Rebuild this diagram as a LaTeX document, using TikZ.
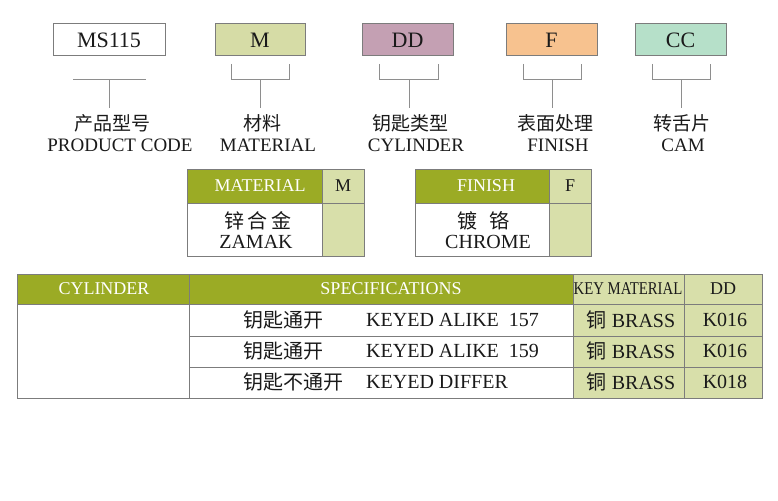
\documentclass[tikz,border=0pt]{standalone}
\usepackage{fontspec}
\setmainfont{Liberation Serif}
\newfontfamily\cjk{Noto Sans CJK SC}
\definecolor{olivehd}{HTML}{9BAB25}
\definecolor{olivelt}{HTML}{D8DFAA}
\definecolor{boxm}{HTML}{D6DCA6}
\definecolor{boxdd}{HTML}{C4A0B3}
\definecolor{boxf}{HTML}{F7C28F}
\definecolor{boxcc}{HTML}{B6E0C9}
\definecolor{edge}{HTML}{7C7C7C}
\definecolor{brkc}{HTML}{8E8E8E}
\definecolor{txt}{HTML}{1A1A1A}
\begin{document}
\begin{tikzpicture}[x=1pt,y=-1pt,
  topbox/.style={draw=edge,line width=1pt,minimum width=112pt,minimum height=32pt,inner sep=0pt,
    font=\fontsize{22}{24}\selectfont,text=txt},
  brk/.style={draw=brkc,line width=1pt},
  cnlab/.style={inner sep=0pt,font=\cjk\fontsize{19}{22}\selectfont,text=txt},
  enlab/.style={inner sep=0pt,font=\fontsize{19}{22}\selectfont,text=txt},
  tb/.style={draw=edge,line width=1pt},
  hdw/.style={inner sep=0pt,font=\fontsize{18}{20}\selectfont,text=white},
  hdd/.style={inner sep=0pt,font=\fontsize{18}{20}\selectfont,text=txt},
  bd/.style={inner sep=0pt,font=\fontsize{20}{22}\selectfont,text=txt},
  bdc/.style={inner sep=0pt,font=\cjk\fontsize{20}{22}\selectfont,text=txt}]
\useasboundingbox (0,0) rectangle (778,500);
\fill[white] (0,0) rectangle (778,500);

% top code boxes
\node[topbox,fill=white,minimum width=112pt] (ms) at (109,40) {MS115};
\node[topbox,fill=boxm,minimum width=90pt] (m) at (260,40) {M};
\node[topbox,fill=boxdd,minimum width=91pt] (dd) at (407.5,40) {DD};
\node[topbox,fill=boxf,minimum width=91pt] (f) at (551.5,40) {F};
\node[topbox,fill=boxcc,minimum width=91pt] (cc) at (680.5,40) {CC};

% labels
\node[cnlab] (l1c) at (112,123) {产品型号};
\node[enlab] (l1e) at (120,145) {PRODUCT CODE};
\node[cnlab] (l2c) at (262,123) {材料};
\node[enlab] (l2e) at (268,145) {MATERIAL};
\node[cnlab] (l3c) at (410,123) {钥匙类型};
\node[enlab] (l3e) at (416,145) {CYLINDER};
\node[cnlab] (l4c) at (555,123) {表面处理};
\node[enlab] (l4e) at (558,145) {FINISH};
\node[cnlab] (l5c) at (682,123) {转舌片};
\node[enlab] (l5e) at (683,145) {CAM};

% brackets
\draw[brk] (73,80) -- (146,80);
\draw[brk] (109,80) -- (109,108);
\draw[brk] (231,64) -- (231,80) -- (289,80) -- (289,64);
\draw[brk] (260,80) -- (260,108);
\draw[brk] (379,64) -- (379,80) -- (438,80) -- (438,64);
\draw[brk] (409,80) -- (409,108);
\draw[brk] (523,64) -- (523,80) -- (581,80) -- (581,64);
\draw[brk] (552,80) -- (552,108);
\draw[brk] (652,64) -- (652,80) -- (710,80) -- (710,64);
\draw[brk] (681,80) -- (681,108);

% material table
\fill[olivehd] (187,169) rectangle (322,203);
\fill[olivelt] (322,169) rectangle (364,256);
\draw[tb] (187,169) rectangle (364,256);
\draw[tb] (322,169) -- (322,256);
\draw[tb] (187,203) -- (364,203);
\node[hdw] (mth) at (260,186) {MATERIAL};
\node[hdd] (mtm) at (343,186) {M};
\node[bdc] (mtc) at (258,221) {锌\,合\,金};
\node[bd] (mte) at (256,242) {ZAMAK};

% finish table
\fill[olivehd] (415,169) rectangle (549,203);
\fill[olivelt] (549,169) rectangle (591,256);
\draw[tb] (415,169) rectangle (591,256);
\draw[tb] (549,169) -- (549,256);
\draw[tb] (415,203) -- (591,203);
\node[hdw] (fth) at (486,186) {FINISH};
\node[hdd] (ftf) at (570,186) {F};
\node[bdc] (ftc) at (483,221) {镀\hspace{0.6em}铬};
\node[bd] (fte) at (488,242) {CHROME};

% bottom table
\fill[olivehd] (17,274) rectangle (573,304);
\fill[olivelt] (573,274) rectangle (762,398);
\draw[tb] (17,274) rectangle (762,398);
\draw[tb] (189,274) -- (189,398);
\draw[tb] (573,274) -- (573,398);
\draw[tb] (684,274) -- (684,398);
\draw[tb] (17,304) -- (762,304);
\draw[tb] (189,336) -- (762,336);
\draw[tb] (189,367) -- (762,367);
\node[hdw] (hcyl) at (104,289) {CYLINDER};
\node[hdw] (hspec) at (391,289) {SPECIFICATIONS};
\node[hdd] (hkey) at (628,289) {\scalebox{0.82}[1]{KEY MATERIAL}};
\node[hdd] (hdd) at (723,289) {DD};

\node[bdc,anchor=west] (r1c) at (243,320) {钥匙通开};
\node[bd,anchor=west] (r1e) at (366,320) {KEYED ALIKE\ \ 157};
\node[bdc,anchor=west] (r2c) at (243,351) {钥匙通开};
\node[bd,anchor=west] (r2e) at (366,351) {KEYED ALIKE\ \ 159};
\node[bdc,anchor=west] (r3c) at (243,382) {钥匙不通开};
\node[bd,anchor=west] (r3e) at (366,382) {KEYED DIFFER};

\node[bd] (k1) at (631,320) {{\cjk 铜} BRASS};
\node[bd] (k2) at (631,351) {{\cjk 铜} BRASS};
\node[bd] (k3) at (631,382) {{\cjk 铜} BRASS};
\node[bd] (d1) at (725,320) {K016};
\node[bd] (d2) at (725,351) {K016};
\node[bd] (d3) at (725,382) {K018};
\end{tikzpicture}
\end{document}
